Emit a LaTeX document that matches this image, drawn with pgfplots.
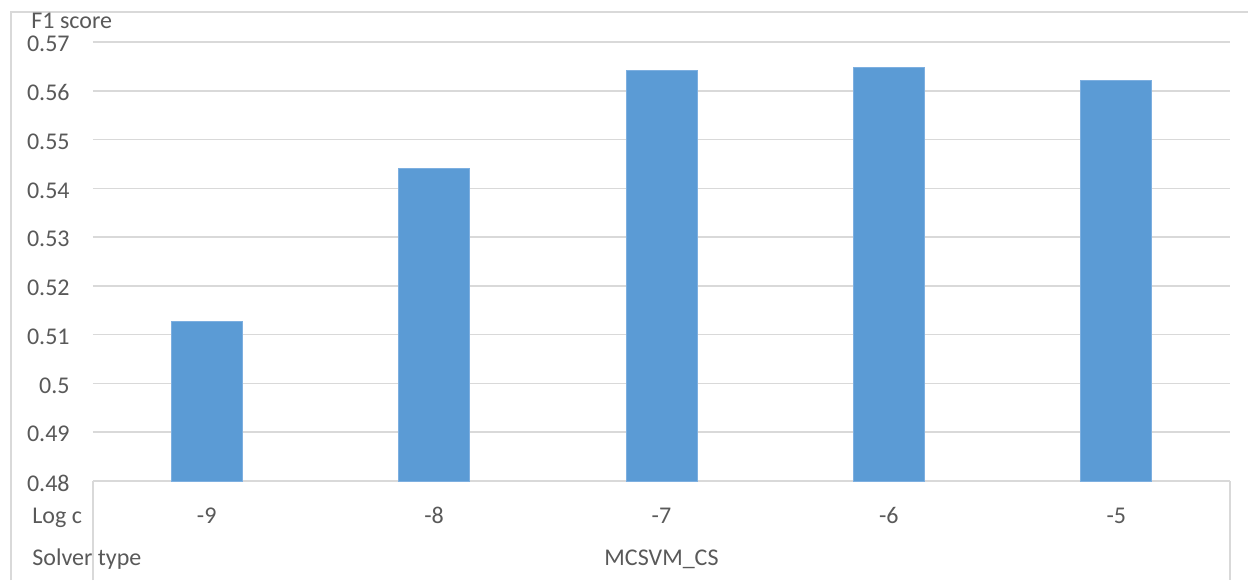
\documentclass[border=0pt]{standalone}
\usepackage{fontspec}
\setmainfont{Carlito}
\usepackage{pgfplots}
\pgfplotsset{compat=1.18}
\definecolor{barblue}{HTML}{5B9BD5}
\definecolor{baredge}{HTML}{7DAFE0}
\definecolor{gridgrey}{HTML}{D9D9D9}
\definecolor{txtgrey}{HTML}{595959}
\begin{document}
\fontsize{12pt}{14pt}\selectfont
\begin{tikzpicture}[x=0.5pt,y=-0.5pt]
\useasboundingbox (0,0) rectangle (1248,580);
% chart area frame
\draw[gridgrey,line width=0.9pt] (11,580) -- (11,12) -- (1248,12);
\begin{axis}[
  at={(46.5pt,-240.5pt)}, anchor=south west,
  scale only axis, width=568.5pt, height=219.5pt,
  ybar, bar width=35.5pt,
  xmin=-0.5, xmax=4.5, ymin=0.48, ymax=0.57,
  xtick=data, xticklabels={-9,-8,-7,-6,-5},
  ytick={0.48,0.49,0.50,0.51,0.52,0.53,0.54,0.55,0.56,0.57},
  axis line style={draw=none},
  major tick length=0pt,
  ymajorgrids, grid style={gridgrey,line width=0.8pt},
  tick label style={font=\fontsize{12pt}{14pt}\selectfont, text=txtgrey},
  /pgf/number format/assume math mode=true,
  yticklabel style={anchor=east, inner sep=0pt, xshift=-11.5pt, yshift=-1pt},
  xticklabel style={anchor=base, inner sep=0pt, yshift=-21pt},
]
\addplot[fill=barblue, draw=baredge, line width=0.5pt] coordinates {
  (0,0.5127) (1,0.5441) (2,0.5642) (3,0.5648) (4,0.5621)
};
\end{axis}
% category table below the plot area
\draw[gridgrey,line width=0.9pt] (93,580) -- (93,481);
\draw[gridgrey,line width=0.9pt] (1230,481) -- (1230,580);
\begin{scope}[every node/.style={text=txtgrey, inner sep=0pt}]
\node[anchor=base west] at (31,28) {F1 score};
\node[anchor=base west] at (32,523) {Log c};
\node[anchor=base west] at (32,565) {Solver type};
\node[anchor=base] at (661.5,565) {MCSVM\_CS};
\end{scope}
\end{tikzpicture}
\end{document}
